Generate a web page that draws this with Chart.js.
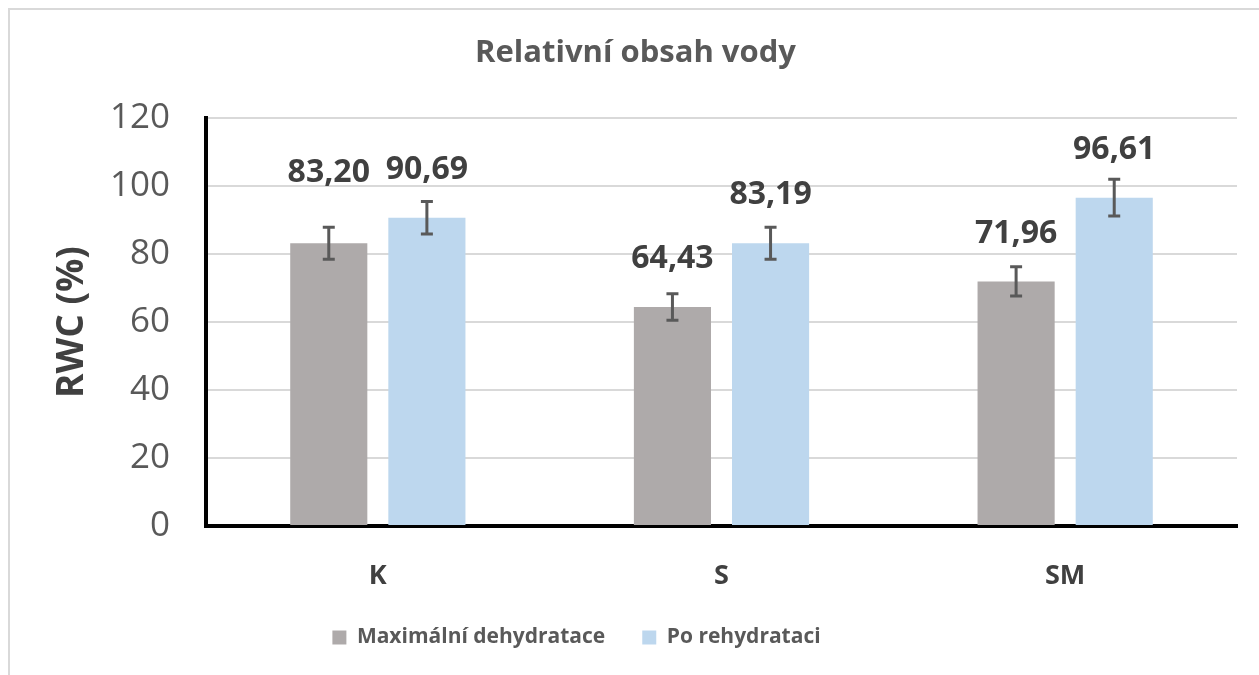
<!DOCTYPE html>
<html>
<head>
<meta charset="utf-8">
<script src="https://cdn.jsdelivr.net/npm/chart.js@4.4.1/dist/chart.umd.min.js"></script>
<style>
  html, body { margin: 0; padding: 0; background: #ffffff; }
  #wrap { position: relative; width: 1259px; height: 675px; }
  #frame { position: absolute; left: 8px; top: 8px; width: 1300px; height: 700px; border-top: 2px solid #d9d9d9; border-left: 2px solid #d9d9d9; box-sizing: border-box; }
  canvas { position: absolute; left: 0; top: 0; }
</style>
</head>
<body>
<div id="wrap">
  <div id="frame"></div>
  <canvas id="c" width="1259" height="675"></canvas>
</div>
<script>
const categories = ['K', 'S', 'SM'];
const seriesNames = ['Maximální dehydratace', 'Po rehydrataci'];
const maxDehydration = [83.20, 64.43, 71.96];
const afterRehydration = [90.69, 83.19, 96.61];
const errMaxDehydration = [4.7, 3.9, 4.3];
const errAfterRehydration = [4.8, 4.7, 5.4];
const yTicks = [0, 20, 40, 60, 80, 100, 120];
const chartTitle = 'Relativní obsah vody';
const yTitle = 'RWC (%)';

const FONT = "'Open Sans', 'DejaVu Sans', sans-serif";
const errors = [errMaxDehydration, errAfterRehydration];
const labelLift = [[22, 0, 0], [0, 0, 0]];

const shiftBlocks = {
  id: 'shiftBlocks',
  afterLayout(chart) {
    if (chart.legend) { chart.legend.left -= 42; chart.legend.right -= 42; }
    if (chart.titleBlock) { chart.titleBlock.left += 17; chart.titleBlock.right += 17; }
  }
};

const errorAndLabels = {
  id: 'errorAndLabels',
  afterDatasetsDraw(chart) {
    const ctx = chart.ctx;
    const y = chart.scales.y;
    ctx.save();
    chart.data.datasets.forEach((ds, di) => {
      const meta = chart.getDatasetMeta(di);
      meta.data.forEach((bar, i) => {
        const v = ds.data[i];
        const e = errors[di][i];
        const yt = y.getPixelForValue(v + e);
        const yb = y.getPixelForValue(v - e);
        ctx.strokeStyle = '#595959';
        ctx.lineWidth = 3;
        ctx.beginPath();
        ctx.moveTo(bar.x, yt); ctx.lineTo(bar.x, yb);
        ctx.moveTo(bar.x - 6, yt); ctx.lineTo(bar.x + 6, yt);
        ctx.moveTo(bar.x - 6, yb); ctx.lineTo(bar.x + 6, yb);
        ctx.stroke();
        ctx.fillStyle = '#404040';
        ctx.font = "bold 32px " + FONT;
        ctx.textAlign = 'center';
        ctx.textBaseline = 'middle';
        ctx.fillText(v.toFixed(2).replace('.', ','), bar.x, bar.y - 48 - labelLift[di][i]);
      });
    });
    ctx.restore();
  }
};

new Chart(document.getElementById('c'), {
  type: 'bar',
  data: {
    labels: categories,
    datasets: [
      { label: seriesNames[0], data: maxDehydration, backgroundColor: '#aeaaaa', categoryPercentage: 0.571, barPercentage: 0.786 },
      { label: seriesNames[1], data: afterRehydration, backgroundColor: '#bdd7ee', categoryPercentage: 0.571, barPercentage: 0.786 }
    ]
  },
  options: {
    responsive: false,
    animation: false,
    layout: { padding: { left: 0, right: 22, top: 0, bottom: 17 } },
    plugins: {
      title: {
        display: true, text: chartTitle, color: '#595959',
        font: { family: FONT, size: 31, weight: 'bold' },
        padding: { top: 35, bottom: 46 }
      },
      legend: {
        position: 'bottom',
        labels: {
          color: '#595959',
          font: { family: FONT, size: 21, weight: 'bold' },
          boxWidth: 14, boxHeight: 14, padding: 37, useBorderRadius: false
        }
      },
      tooltip: { enabled: false }
    },
    scales: {
      x: {
        grid: { display: false, drawTicks: false },
        border: { display: true, color: '#000000', width: 4 },
        ticks: { color: '#404040', font: { family: FONT, size: 27, weight: 'bold' }, padding: 34 },
        afterFit(s) { s.height = 64; }
      },
      y: {
        min: 0, max: 120,
        afterBuildTicks(s) { s.ticks = yTicks.map(v => ({ value: v })); },
        grid: { color: '#d9d9d9', lineWidth: 2, drawTicks: false },
        border: { display: true, color: '#000000', width: 4 },
        ticks: { color: '#595959', font: { family: FONT, size: 35 }, padding: 36 },
        title: { display: true, text: yTitle, color: '#404040', font: { family: FONT, size: 37, weight: 'bold' }, padding: { top: 50, bottom: 0 } },
        afterFit(s) { s.width = 206; }
      }
    }
  },
  plugins: [shiftBlocks, errorAndLabels]
});
</script>
</body>
</html>
